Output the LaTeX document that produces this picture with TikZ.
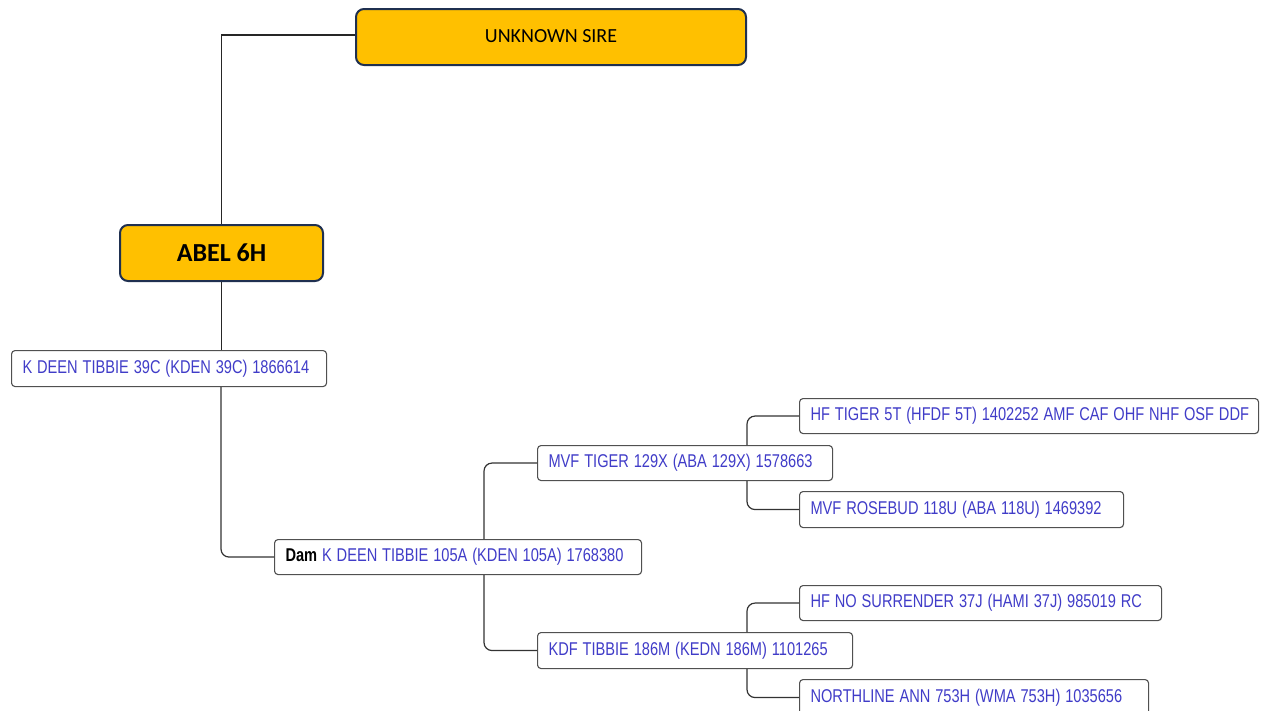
\documentclass[tikz,border=0pt]{standalone}
\usepackage{fontspec}
\usepackage{graphicx}
\setmainfont{Carlito}
\newfontfamily\pfont{Liberation Sans}
\newcommand\ped[1]{\scalebox{0.79}[1]{#1}}
\definecolor{gold}{HTML}{FFC000}
\definecolor{navy}{HTML}{1F3050}
\definecolor{pblue}{RGB}{64,60,200}
\definecolor{pgray}{RGB}{80,80,80}
\tikzset{
  mainbox/.style={draw=navy, line width=2pt, fill=gold, rounded corners=8pt, anchor=north west, inner sep=0pt},
  pbox/.style={draw=pgray, line width=1.1pt, fill=white, rounded corners=3.5pt, anchor=north west,
    inner xsep=11pt, inner ysep=0pt, align=left, text=pblue, font=\pfont\fontsize{18.5}{21}\selectfont},
  conn/.style={draw=black!85, line width=1.3pt},
  tree/.style={draw=black!80, line width=1.2pt, rounded corners=8pt}
}
\begin{document}
\begin{tikzpicture}[x=1pt,y=-1pt]
\useasboundingbox (0,0) rectangle (1268,710);
\node[mainbox, minimum width=390pt, minimum height=56pt, font=\fontsize{20}{24}\selectfont] (sire) at (355,8) {\raisebox{2pt}{UNKNOWN SIRE}};
\node[mainbox, minimum width=203pt, minimum height=56pt, font=\bfseries\fontsize{26}{30}\selectfont] (abel) at (119,224) {\raisebox{-2pt}{ABEL 6H}};
\node[pbox, text width=293pt, minimum height=36pt] (k39) at (11,350) {\ped{K DEEN TIBBIE 39C (KDEN 39C) 1866614}};
\node[pbox, text width=345pt, minimum height=35pt] (dam) at (274,539) {\ped{\textcolor{black}{\bfseries Dam} K DEEN TIBBIE 105A (KDEN 105A) 1768380}};
\node[pbox, text width=273pt, minimum height=35pt] (mvf) at (537,445) {\ped{MVF TIGER 129X (ABA 129X) 1578663}};
\node[pbox, text width=293pt, minimum height=36pt] (kdf) at (537,632) {\ped{KDF TIBBIE 186M (KEDN 186M) 1101265}};
\node[pbox, text width=437pt, minimum height=35pt] (hft) at (799,398) {\ped{HF TIGER 5T (HFDF 5T) 1402252 AMF CAF OHF NHF OSF DDF}};
\node[pbox, text width=302pt, minimum height=36pt] (rose) at (799,491) {\ped{MVF ROSEBUD 118U (ABA 118U) 1469392}};
\node[pbox, text width=340pt, minimum height=35pt] (hfno) at (799,585) {\ped{HF NO SURRENDER 37J (HAMI 37J) 985019 RC}};
\node[pbox, text width=327pt, minimum height=36pt] (north) at (799,679) {\ped{NORTHLINE ANN 753H (WMA 753H) 1035656}};
\draw[conn] ([yshift=2pt]sire.west) -| (abel.north);
\draw[conn] (abel.south) -- (abel.south |- k39.north);
\draw[tree] ([xshift=210pt]k39.south west) |- (dam.west);
\draw[tree] ([xshift=210pt]dam.north west) |- (mvf.west);
\draw[tree] ([xshift=210pt]dam.south west) |- (kdf.west);
\draw[tree] ([xshift=210pt]mvf.north west) |- (hft.west);
\draw[tree] ([xshift=210pt]mvf.south west) |- (rose.west);
\draw[tree] ([xshift=210pt]kdf.north west) |- (hfno.west);
\draw[tree] ([xshift=210pt]kdf.south west) |- (north.west);
\end{tikzpicture}
\end{document}
